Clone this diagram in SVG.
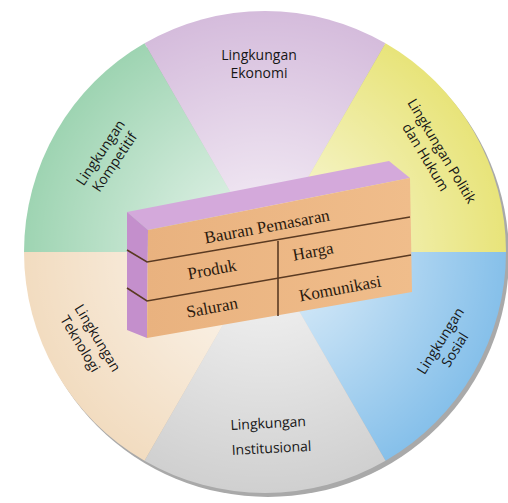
<svg xmlns="http://www.w3.org/2000/svg" width="508" height="503" viewBox="0 0 508 503">
<style>
.lbl{font-family:"Open Sans","Lato","DejaVu Sans",sans-serif;font-size:14px;fill:#161616;text-anchor:middle}
.box{font-family:"Liberation Serif","Times New Roman",serif;font-size:17px;fill:#2b1a0e;text-anchor:middle}
.div{stroke:#5a3a22;stroke-width:1.6;fill:none}
</style>
<defs>
<radialGradient id="glow" cx="265" cy="252" r="241" gradientUnits="userSpaceOnUse">
<stop offset="0" stop-color="#fff" stop-opacity="0.8"/>
<stop offset="0.45" stop-color="#fff" stop-opacity="0.45"/>
<stop offset="1" stop-color="#fff" stop-opacity="0"/>
</radialGradient>
<linearGradient id="front" x1="0" y1="0" x2="1" y2="0">
<stop offset="0" stop-color="#e9b27f"/>
<stop offset="1" stop-color="#f0bd8b"/>
</linearGradient>
</defs>
<rect width="508" height="503" fill="#fff"/>
<circle cx="268" cy="256" r="241" fill="#a9a9a9"/>
<g id="ekonomi"><path d="M265,252 L144.5,43.3 A241,241 0 0 1 385.5,43.3 Z" fill="#d5bcdc"/></g>
<g id="politik"><path d="M265,252 L385.5,43.3 A241,241 0 0 1 506,252 Z" fill="#e8e47a"/></g>
<g id="sosial"><path d="M265,252 L506,252 A241,241 0 0 1 385.5,460.7 Z" fill="#86c0ea"/></g>
<g id="institusional"><path d="M265,252 L385.5,460.7 A241,241 0 0 1 144.5,460.7 Z" fill="#d0d0d0"/></g>
<g id="teknologi"><path d="M265,252 L144.5,460.7 A241,241 0 0 1 24,252 Z" fill="#f2dcc0"/></g>
<g id="kompetitif"><path d="M265,252 L24,252 A241,241 0 0 1 144.5,43.3 Z" fill="#9ed4b2"/></g>
<circle cx="265" cy="252" r="241" fill="url(#glow)"/>
<g id="labels">
<text class="lbl" x="259" y="60">Lingkungan</text>
<text class="lbl" x="259" y="78">Ekonomi</text>
<g transform="translate(435,155) rotate(59)">
<text class="lbl" x="0" y="-3">Lingkungan Politik</text>
<text class="lbl" x="-3" y="14">dan Hukum</text>
</g>
<g transform="translate(447,345) rotate(-58)">
<text class="lbl" x="0" y="-3">Lingkungan</text>
<text class="lbl" x="0" y="14">Sosial</text>
</g>
<g transform="translate(269,438) rotate(-3)">
<text class="lbl" x="0" y="-10">Lingkungan</text>
<text class="lbl" x="2" y="15">Institusional</text>
</g>
<g transform="translate(91,342) rotate(59)">
<text class="lbl" x="0" y="-3">Lingkungan</text>
<text class="lbl" x="-4" y="15">Teknologi</text>
</g>
<g transform="translate(107,157) rotate(-56)">
<text class="lbl" x="0" y="-3">Lingkungan</text>
<text class="lbl" x="0" y="14">Kompetitif</text>
</g>
</g>
<g id="connectors"/>
<g id="bauran">
<polygon points="127,212 148,230 410,178 389,161" fill="#d4a9db"/>
<polygon points="127,212 148,230 147,338 127,330" fill="#c48fcc"/>
<polygon points="148,230 410,178 412,292 147,338" fill="url(#front)"/>
<path class="div" d="M127,250 L147,262 L410,217"/>
<path class="div" d="M127,288 L147,301 L411,255"/>
<path class="div" d="M278,241 L278,316"/>
<text class="box" transform="translate(268,232) rotate(-10.5)">Bauran Pemasaran</text>
<text class="box" transform="translate(213,275) rotate(-10.5)">Produk</text>
<text class="box" transform="translate(314,257) rotate(-10.5)">Harga</text>
<text class="box" transform="translate(213,313) rotate(-10.5)">Saluran</text>
<text class="box" transform="translate(341,294) rotate(-10.5)">Komunikasi</text>
</g>
</svg>
